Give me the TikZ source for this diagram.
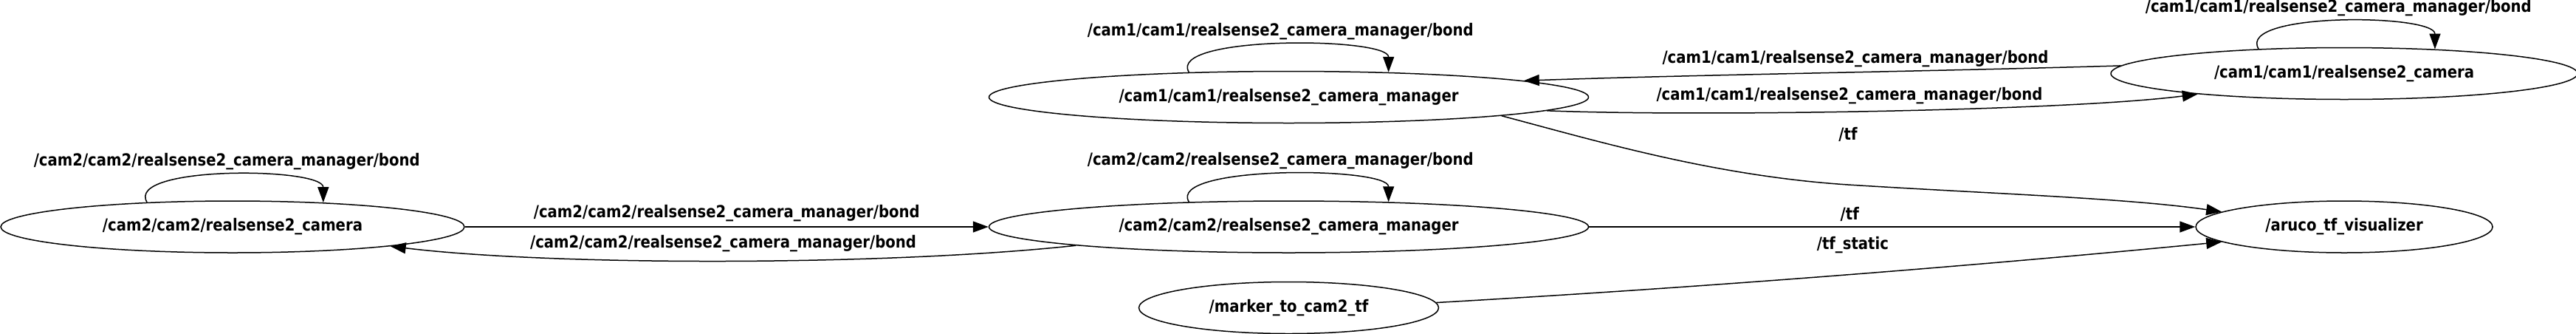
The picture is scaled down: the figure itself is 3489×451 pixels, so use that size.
\documentclass[tikz,border=0pt]{standalone}
\usepackage{fontspec}
\setmainfont{DejaVu Sans}[FakeStretch=0.87]
\usetikzlibrary{arrows.meta,positioning,shapes.geometric}

\begin{document}
\begin{tikzpicture}[x=0.5pt,y=-0.5pt,font=\fontsize{11.3}{13}\selectfont\bfseries,line width=0.75pt,
  >={Triangle[length=10.5pt,width=7.5pt]},
  rosnode/.style={draw,ellipse,inner sep=0pt,minimum height=35pt}]
  \useasboundingbox (0,0) rectangle (3489,451);
  \node[rosnode,minimum width=314pt] (cam2cam) at (315,307) {/cam2/cam2/realsense2\_camera};
  \node[rosnode,minimum width=406pt,right=354.5pt of cam2cam] (cam2mgr) {/cam2/cam2/realsense2\_camera\_manager};
  \node[rosnode,minimum width=406pt,above=52pt of cam2mgr] (cam1mgr) {/cam1/cam1/realsense2\_camera\_manager};
  \node[rosnode,minimum width=203pt,below=19pt of cam2mgr] (marker) {/marker\_to\_cam2\_tf};
  \node[rosnode,minimum width=201pt,right=410.5pt of cam2mgr] (aruco) {/aruco\_tf\_visualizer};
  \node[rosnode,minimum width=316pt,above=68pt of aruco] (cam1cam) {/cam1/cam1/realsense2\_camera};
  \draw[->](cam2cam.164) .. controls +(-30,-50) and +(0,-48) .. (cam2cam.15) node[midway,above]{/cam2/cam2/realsense2\_camera\_manager/bond};
  \draw[->](cam2mgr.166) .. controls +(-30,-50) and +(0,-48) .. (cam2mgr.14) node[midway,above]{/cam2/cam2/realsense2\_camera\_manager/bond};
  \draw[->](cam1mgr.166) .. controls +(-30,-50) and +(0,-48) .. (cam1mgr.14) node[midway,above]{/cam1/cam1/realsense2\_camera\_manager/bond};
  \draw[->](cam1cam.164) .. controls +(-30,-50) and +(0,-48) .. (cam1cam.15) node[midway,above]{/cam1/cam1/realsense2\_camera\_manager/bond};
  \draw[->](cam2cam.east)--(cam2mgr.west) node[midway,above]{/cam2/cam2/realsense2\_camera\_manager/bond};
  \draw[->](cam2mgr.185) .. controls (1200,360) and (750,360) .. (cam2cam.353) node[midway,above=2.5pt]{/cam2/cam2/realsense2\_camera\_manager/bond};
  \draw[->](cam2mgr.east)--(aruco.west) node[pos=.43,above]{/tf};
  \draw[->](marker.2) .. controls +(350,-20) and +(-350,34) .. (aruco.187) node[pos=.53,above=10.5pt]{/tf\_static};
  \draw[->](cam1mgr.355) .. controls (2160,190) and (2320,238) .. (2503,250) node[above=25.5pt]{/tf}
    .. controls (2693,262) and (2880,268) .. (aruco.173);
  \draw[->](cam1mgr.357) .. controls (2300,158) and (2800,150) .. (cam1cam.188) node[pos=.46,above=1.5pt]{/cam1/cam1/realsense2\_camera\_manager/bond};
  \draw[->](cam1cam.178) .. controls (2600,97) and (2300,101) .. (cam1mgr.4) node[pos=.43,above]{/cam1/cam1/realsense2\_camera\_manager/bond};
\end{tikzpicture}
\end{document}
